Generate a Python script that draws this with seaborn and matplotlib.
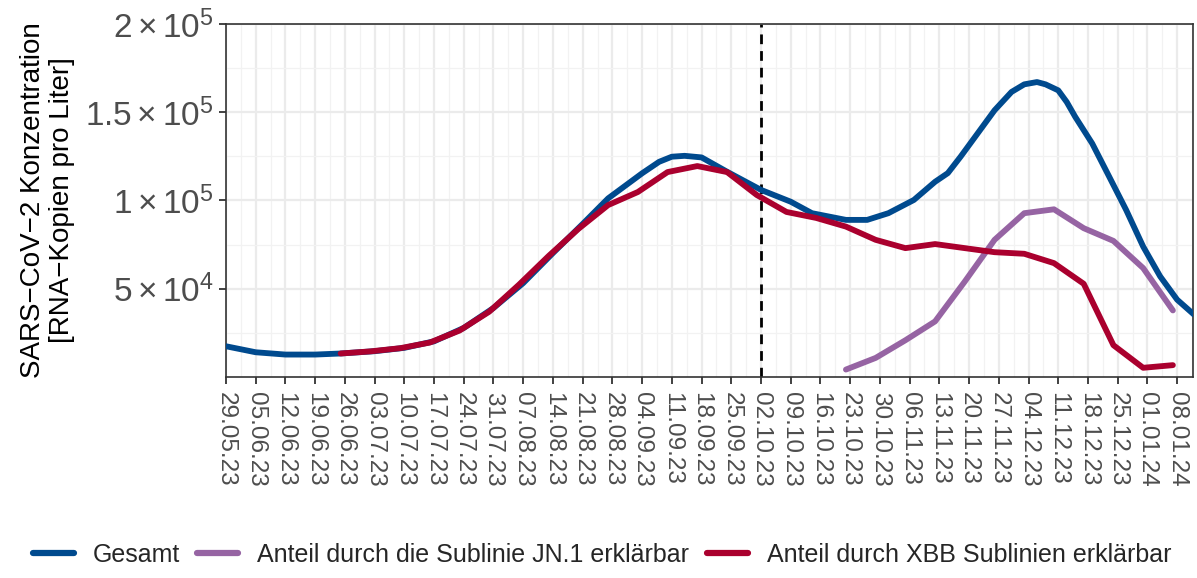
import pandas as pd
import seaborn as sns
import matplotlib.pyplot as plt

# Gesamt (smoothed curve)
gesamt_dates = ['2023-05-29', '2023-06-05', '2023-06-12', '2023-06-19', '2023-06-25',
                '2023-07-03', '2023-07-10', '2023-07-17', '2023-07-24', '2023-07-31',
                '2023-08-07', '2023-08-14', '2023-08-21', '2023-08-27', '2023-09-04',
                '2023-09-08', '2023-09-11', '2023-09-14', '2023-09-18', '2023-09-24',
                '2023-10-02', '2023-10-09', '2023-10-14', '2023-10-22', '2023-10-27',
                '2023-11-01', '2023-11-07', '2023-11-12', '2023-11-15', '2023-11-18',
                '2023-11-26', '2023-11-30', '2023-12-03', '2023-12-06', '2023-12-08',
                '2023-12-11', '2023-12-13', '2023-12-15', '2023-12-19', '2023-12-23',
                '2023-12-27', '2023-12-31', '2024-01-04', '2024-01-08', '2024-01-12']
gesamt_values = [17400, 14000, 12700, 12700, 13300,
                 14600, 16500, 20200, 27800, 39100,
                 53200, 70200, 86700, 101200, 115400,
                 121900, 124800, 125300, 124400, 116300,
                 106000, 99300, 92800, 89000, 89000,
                 92800, 100300, 110600, 115500, 124800,
                 151100, 161500, 165800, 167100, 165800,
                 162400, 155800, 147400, 132300, 113500,
                 94600, 73900, 57000, 43800, 35300]

# Anteil XBB (weekly)
xbb_dates = pd.date_range('2023-06-25', '2024-01-07', freq='7D')
xbb_values = [13300, 14500, 16300, 19500, 26300, 37000, 52300, 68600, 83900, 97400,
              104800, 116100, 119500, 116100, 103100, 93500, 90100, 85200, 77700, 73000,
              75300, 73000, 70700, 69800, 64500, 52800, 18000, 5200, 6700]

# Anteil JN.1 (weekly)
jn1_dates = pd.date_range('2023-10-22', '2024-01-07', freq='7D')
jn1_values = [4200, 10800, 20800, 31500, 54100, 77700, 92800, 95000, 84300, 77100,
              61700, 37700]

labels = ['Gesamt', 'Anteil durch die Sublinie JN.1 erklärbar',
          'Anteil durch XBB Sublinien erklärbar']
colors = ['#004A8E', '#9664A3', '#AA002E']

tick_dates = pd.date_range('2023-05-29', '2024-01-08', freq='7D')
minor_dates = tick_dates + pd.Timedelta(hours=84)
y_ticks = [50000, 100000, 150000, 200000]
y_labels = [r'$5\times10^{4}$', r'$1\times10^{5}$', r'$1.5\times10^{5}$', r'$2\times10^{5}$']
y_minor = [25000, 75000, 125000, 175000]

df = pd.concat([
    pd.DataFrame({'Datum': pd.to_datetime(gesamt_dates), 'Wert': gesamt_values, 'Serie': labels[0]}),
    pd.DataFrame({'Datum': jn1_dates, 'Wert': jn1_values, 'Serie': labels[1]}),
    pd.DataFrame({'Datum': xbb_dates, 'Wert': xbb_values, 'Serie': labels[2]}),
])

sns.set_theme(style='white')
plt.rcParams['font.family'] = ['Liberation Sans', 'DejaVu Sans']
plt.rcParams['mathtext.fontset'] = 'custom'
plt.rcParams['mathtext.rm'] = 'Liberation Sans'
plt.rcParams['mathtext.it'] = 'Liberation Sans'

fig = plt.figure(figsize=(11.97, 5.78), dpi=100)
ax = fig.add_axes([0.1888, 0.3478, 0.9967 - 0.1888, 0.9585 - 0.3478])

sns.lineplot(data=df, x='Datum', y='Wert', hue='Serie', hue_order=labels,
             palette=colors, estimator=None, linewidth=4.2, ax=ax, legend=False, zorder=3)

ax.axvline(pd.Timestamp('2023-10-02'), color='black', linestyle=(0, (3.5, 2.5)),
           linewidth=2, zorder=2)

# Axes
ax.set_xlim(pd.Timestamp('2023-05-29'), pd.Timestamp('2024-01-11 18:00'))
ax.set_ylim(0, 200000)
ax.set_xticks(tick_dates)
ax.set_xticklabels([d.strftime('%d.%m.%y') for d in tick_dates], rotation=-90,
                   fontsize=17.5, color='#4D4D4D')
ax.set_xticks(minor_dates, minor=True)
ax.set_yticks(y_ticks)
ax.set_yticklabels(y_labels, fontsize=24, color='#4D4D4D')
ax.set_yticks(y_minor, minor=True)
ax.tick_params(axis='both', which='major', length=5, width=1.3, color='#333333',
               bottom=True, left=True)
ax.tick_params(axis='x', which='major', pad=6)
ax.tick_params(axis='y', which='major', pad=4)
ax.tick_params(axis='both', which='minor', length=0)

ax.grid(which='major', color='#EBEBEB', linewidth=1.6, zorder=0)
ax.grid(which='minor', color='#F2F2F2', linewidth=0.9, zorder=0)
ax.set_axisbelow(True)
for s in ax.spines.values():
    s.set_color('#333333')
    s.set_linewidth(1.2)

ax.set_xlabel('')
ax.set_ylabel('SARS−CoV−2 Konzentration\n[RNA−Kopien pro Liter]', fontsize=20,
              color='black', labelpad=7, linespacing=1.15)

handles = [plt.Line2D([], [], color=c, linewidth=4.5) for c in colors]
fig.legend(handles, labels, loc='center', bbox_to_anchor=(0.503, 1 - 555 / 578), ncol=3,
           frameon=False, fontsize=18, handlelength=1.64, columnspacing=0.7,
           handletextpad=0.76)

fig.savefig('out.png', dpi=100)
